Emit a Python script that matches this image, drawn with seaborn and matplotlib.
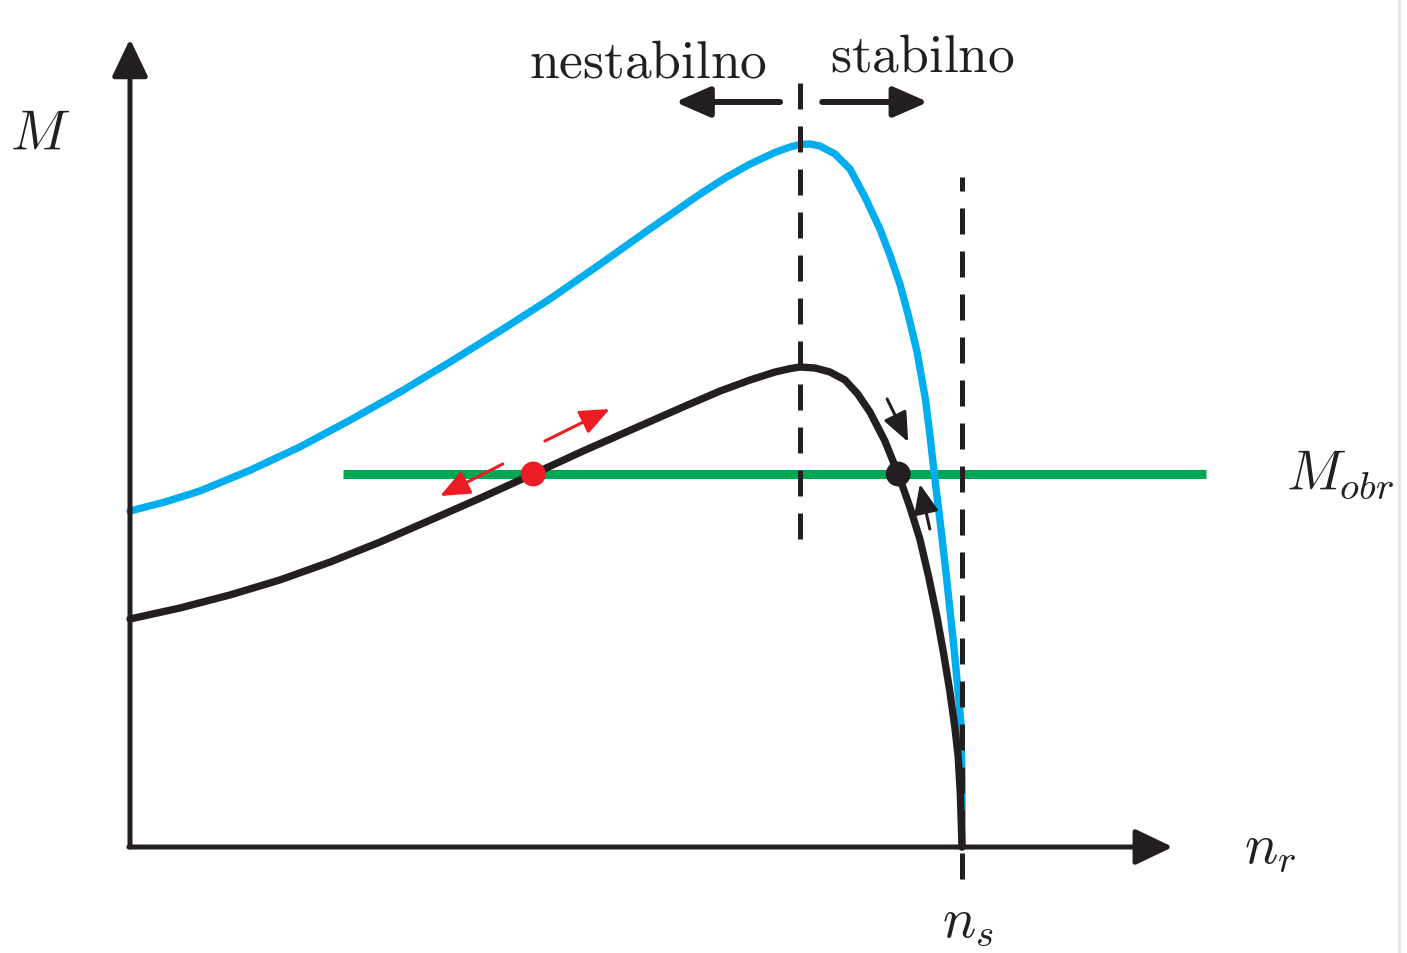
"""Torque-speed characteristic of an induction motor (stable / unstable region)."""

import matplotlib.pyplot as plt
import seaborn as sns
import pandas as pd

# speed n [rpm], torque M [Nm]
N_SYNC = 1500

black_n = [0, 90, 180, 270, 361, 451, 546, 636, 727, 817, 907, 997, 1064, 1118,
           1163, 1190, 1208, 1235, 1262, 1289, 1312, 1334, 1361, 1385, 1406, 1424,
           1440, 1455, 1467, 1478, 1487, 1493, 1497, 1500]
black_m = [114, 119.5, 126, 133.5, 142.5, 152.5, 164, 175, 186.5, 198, 209, 220,
           228, 233.5, 237.5, 239.2, 240, 239.5, 237.5, 233.5, 226.5, 217.5, 203,
           186.5, 170, 154, 135, 115, 96.5, 78, 60, 45.5, 26.5, 0]

blue_n = [0, 63, 126, 216, 306, 396, 487, 577, 667, 757, 847, 937, 1028, 1073,
          1118, 1163, 1190, 1208, 1226, 1244, 1271, 1298, 1325, 1352, 1370, 1388,
          1404, 1419, 1434, 1443, 1450, 1460, 1471, 1480, 1487, 1498, 1500, 1500]
blue_m = [168, 172.5, 178, 188.3, 200, 213.3, 227.5, 242.5, 258, 274, 291.3, 309,
          326.5, 334.5, 341.5, 347.3, 350, 351.3, 351.5, 350.5, 346.5, 339, 325,
          309, 296, 281.5, 265, 247.5, 224, 204, 186.5, 164, 137.5, 114, 95.5,
          62.5, 34, 0]

M_LOAD = 186.5
load_n = [384, 1940]
eq_points_n = [727, 1385]     # unstable (red), stable (black)
eq_colors = ["#ED1C24", "#231F20"]

n_break = 1208                 # speed at maximum torque
break_line_m = [154, 387.5]
sync_line_m = [-16, 335]

n_axis_end = 1880
m_axis_end = 404

# small arrows (start, end)
red_arrows = [((748, 203), (865, 219)), ((672, 191.5), (559, 175.5))]
black_arrows = [((1365, 224), (1403, 202.5)), ((1442, 159), (1424, 181.5))]
region_arrows = [((1172, 372.5), (983, 372.5)), ((1248, 372.5), (1439, 372.5))]

BLACK = "#231F20"
BLUE = "#00AEEF"
GREEN = "#00A651"
RED = "#ED1C24"

sns.set_style("white")
plt.rcParams["mathtext.fontset"] = "cm"
plt.rcParams["font.family"] = ["DejaVu Sans"]

fig = plt.figure(figsize=(14.07, 9.54), dpi=100)
ax = fig.add_axes([0, 0, 1, 1])

df_black = pd.DataFrame({"n": black_n, "M": black_m})
df_blue = pd.DataFrame({"n": blue_n, "M": blue_m})

ax.plot(load_n, [M_LOAD, M_LOAD], color=GREEN, lw=6.5, solid_capstyle="butt", zorder=1)
sns.lineplot(data=df_blue, x="n", y="M", sort=False, estimator=None, color=BLUE,
             lw=5.3, ax=ax, zorder=2)
sns.lineplot(data=df_black, x="n", y="M", sort=False, estimator=None, color=BLACK,
             lw=5.3, ax=ax, zorder=3)

dash = (0, (5.2, 3.4))
ax.plot([n_break, n_break], break_line_m, color=BLACK, lw=3.6, ls=dash, zorder=4)
ax.plot([N_SYNC, N_SYNC], sync_line_m, color=BLACK, lw=3.6, ls=dash, zorder=4)

sns.scatterplot(x=eq_points_n, y=[M_LOAD, M_LOAD], hue=eq_points_n, palette=eq_colors,
                s=320, linewidth=0, legend=False, ax=ax, zorder=5)

# axes with arrow heads
axis_style = dict(arrowstyle="-|>,head_length=1.15,head_width=0.55", lw=3.6,
                  color=BLACK, shrinkA=0, shrinkB=0, mutation_scale=20)
ax.annotate("", xy=(0, m_axis_end), xytext=(0, 0), arrowprops=axis_style, zorder=6)
ax.annotate("", xy=(n_axis_end, 0), xytext=(-2, 0), arrowprops=axis_style, zorder=6)

for (x0, y0), (x1, y1) in region_arrows:
    ax.annotate("", xy=(x1, y1), xytext=(x0, y0), zorder=6,
                arrowprops=dict(arrowstyle="-|>,head_length=1.05,head_width=0.46",
                                lw=4.3, color=BLACK, shrinkA=0, shrinkB=0,
                                mutation_scale=20))
for (x0, y0), (x1, y1) in red_arrows:
    ax.annotate("", xy=(x1, y1), xytext=(x0, y0), zorder=6,
                arrowprops=dict(arrowstyle="-|>,head_length=1.0,head_width=0.42",
                                lw=2.2, color=RED, shrinkA=0, shrinkB=0,
                                mutation_scale=18))
for (x0, y0), (x1, y1) in black_arrows:
    ax.annotate("", xy=(x1, y1), xytext=(x0, y0), zorder=6,
                arrowprops=dict(arrowstyle="-|>,head_length=1.0,head_width=0.42",
                                lw=2.2, color=BLACK, shrinkA=0, shrinkB=0,
                                mutation_scale=18))

# labels
ax.text(-162, 356.5, r"$M$", fontsize=40, ha="center", va="center", color=BLACK)
ax.text(2181, M_LOAD, r"$M_{obr}$", fontsize=40, ha="center", va="center", color=BLACK)
ax.text(2055, 0, r"$n_r$", fontsize=40, ha="center", va="center", color=BLACK)
ax.text(1511, -37, r"$n_s$", fontsize=40, ha="center", va="center", color=BLACK)
ax.text(934, 393, r"$\mathrm{nestabilno}$", fontsize=38.5, ha="center", va="center",
        color=BLACK)
ax.text(1428, 395.5, r"$\mathrm{stabilno}$", fontsize=38.5, ha="center", va="center",
        color=BLACK)

# page edge seen in the original scan
ax.axvline(2288, color="#e4e4e4", lw=2)

k = N_SYNC / 832
ax.set_xlim(-130 * k, (1407 - 130) * k)
ax.set_ylim((848 - 954) * 0.5, 848 * 0.5)
ax.axis("off")

fig.savefig("out.png", dpi=100)
